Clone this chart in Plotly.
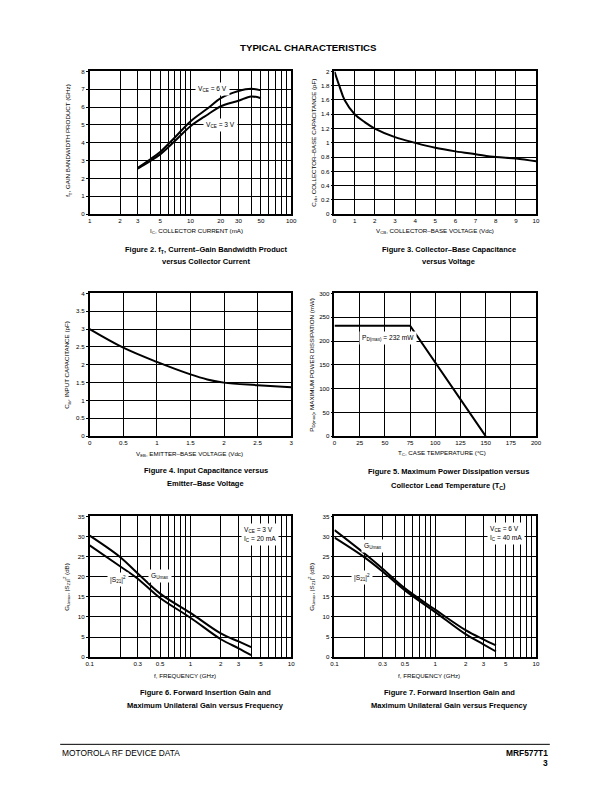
import math
import plotly.graph_objects as go

# ---------------- data ----------------
# Figure 2: fT vs collector current
ic_ma = [3, 4, 5, 7, 10, 15, 20, 30, 40, 50]
ft_vce6 = [2.6, 3.08, 3.48, 4.3, 5.2, 5.95, 6.5, 6.9, 7.03, 6.94]
ft_vce3 = [2.55, 2.98, 3.35, 4.1, 4.93, 5.6, 6.05, 6.36, 6.6, 6.5]
fig2_xticks = [1, 2, 3, 5, 10, 20, 30, 50, 100]
fig2_xgrid = [4, 6, 7, 8, 9, 40, 60, 70, 80, 90]

# Figure 3: Ccb vs VCB
vcb = [0, 0.25, 0.5, 1, 1.5, 2, 3, 4, 5, 6, 7, 8, 9, 10]
ccb = [2.0, 1.79, 1.6, 1.4, 1.29, 1.2, 1.08, 1.0, 0.93, 0.88, 0.84, 0.80, 0.78, 0.74]

# Figure 4: Cib vs VEB
veb = [0, 0.5, 1, 1.5, 1.75, 2, 2.5, 3]
cib = [3.0, 2.48, 2.08, 1.73, 1.59, 1.5, 1.43, 1.37]

# Figure 5: PD(max) vs TC
tc = [0, 75, 150]
pd_max = [232, 232, 0]

# Figure 6 / 7: gains vs frequency
freq = [0.1, 0.2, 0.3, 0.5, 1, 2, 3, 4]
gu6 = [30.2, 24.9, 20.8, 15.8, 11.0, 5.9, 3.9, 2.5]
s21_6 = [27.8, 22.6, 19.5, 14.7, 9.8, 4.45, 2.2, 0.5]
gu7 = [31.6, 25.7, 22.0, 17.1, 11.8, 6.7, 4.4, 2.9]
s21_7 = [29.7, 24.75, 21.3, 16.6, 11.2, 5.7, 3.2, 1.4]
freq_ticks = [0.1, 0.3, 0.5, 1, 2, 3, 5, 10]
freq_grid = [0.2, 0.4, 0.6, 0.7, 0.8, 0.9, 4, 6, 7, 8, 9]

# ---------------- helpers ----------------
PAGE_W, PAGE_H = 612, 792
BODY = 8  # default body margin of the html page
W, H = PAGE_W - 2 * BODY, PAGE_H - 2 * BODY
FONT = "Liberation Sans"


def px(x):
    return (x - BODY) / W


def py(y):
    return 1 - (y - BODY) / H


LEFT = [px(87), px(292)]
RIGHT = [px(336), px(541)]
ROW1 = [py(212), py(68)]
ROW2 = [py(436), py(292)]
ROW3 = [py(659), py(517)]

TICKFONT = dict(family=FONT, size=6.2, color="black")


def ax(domain, anchor, **kw):
    d = dict(domain=domain, anchor=anchor, showline=True, linecolor="black", linewidth=1.5,
             mirror=True, showgrid=True, gridcolor="black", gridwidth=1, zeroline=False,
             tickfont=TICKFONT, fixedrange=True, ticks="", ticklen=2, tickcolor="black")
    d.update(kw)
    return d


def minor_grid(vals):
    return dict(tickmode="array", tickvals=vals, showgrid=True, gridcolor="black", gridwidth=1, ticks="")


LINE = dict(color="black", width=2)

fig = go.Figure()
fig.add_trace(go.Scatter(x=ic_ma, y=ft_vce6, mode="lines", line=dict(LINE, shape="spline"), xaxis="x", yaxis="y"))
fig.add_trace(go.Scatter(x=ic_ma, y=ft_vce3, mode="lines", line=dict(LINE, shape="spline"), xaxis="x", yaxis="y"))
fig.add_trace(go.Scatter(x=vcb, y=ccb, mode="lines", line=dict(LINE, shape="spline"), xaxis="x2", yaxis="y2"))
fig.add_trace(go.Scatter(x=veb, y=cib, mode="lines", line=dict(LINE, shape="spline"), xaxis="x3", yaxis="y3"))
fig.add_trace(go.Scatter(x=tc, y=pd_max, mode="lines", line=LINE, xaxis="x4", yaxis="y4"))
fig.add_trace(go.Scatter(x=freq, y=gu6, mode="lines", line=dict(LINE, shape="spline"), xaxis="x5", yaxis="y5"))
fig.add_trace(go.Scatter(x=freq, y=s21_6, mode="lines", line=dict(LINE, shape="spline"), xaxis="x5", yaxis="y5"))
fig.add_trace(go.Scatter(x=freq, y=gu7, mode="lines", line=dict(LINE, shape="spline"), xaxis="x6", yaxis="y6"))
fig.add_trace(go.Scatter(x=freq, y=s21_7, mode="lines", line=dict(LINE, shape="spline"), xaxis="x6", yaxis="y6"))

fig.update_layout(
    width=W, height=H, margin=dict(l=0, r=0, t=0, b=0),
    paper_bgcolor="white", plot_bgcolor="white", showlegend=False,
    font=dict(family=FONT, color="black"),
    xaxis=ax(LEFT, "y", type="log", range=[0, 2], tickmode="array", tickvals=fig2_xticks,
             ticktext=[str(v) for v in fig2_xticks], minor=minor_grid(fig2_xgrid)),
    yaxis=ax(ROW1, "x", range=[0, 8], dtick=1, ticks="outside"),
    xaxis2=ax(RIGHT, "y2", range=[0, 10], dtick=1),
    yaxis2=ax(ROW1, "x2", range=[0, 2], dtick=0.2, ticks="outside"),
    xaxis3=ax(LEFT, "y3", range=[0, 3], dtick=0.5),
    yaxis3=ax(ROW2, "x3", range=[0, 4], dtick=0.5, ticks="outside"),
    xaxis4=ax(RIGHT, "y4", range=[0, 200], dtick=25),
    yaxis4=ax(ROW2, "x4", range=[0, 300], dtick=50, ticks="outside"),
    xaxis5=ax(LEFT, "y5", type="log", range=[-1, 1], tickmode="array", tickvals=freq_ticks,
              ticktext=[str(v) for v in freq_ticks], minor=minor_grid(freq_grid)),
    yaxis5=ax(ROW3, "x5", range=[0, 35], dtick=5, ticks="outside"),
    xaxis6=ax(RIGHT, "y6", type="log", range=[-1, 1], tickmode="array", tickvals=freq_ticks,
              ticktext=[str(v) for v in freq_ticks], minor=minor_grid(freq_grid)),
    yaxis6=ax(ROW3, "x6", range=[0, 35], dtick=5, ticks="outside"),
)

ann = []


def paper_text(text, x, y, size=6.2, bold=False, angle=0, xanchor="center"):
    ann.append(dict(text=("<b>%s</b>" % text) if bold else text, x=px(x), y=py(y), xref="paper", yref="paper",
                    showarrow=False, xanchor=xanchor, yanchor="middle", textangle=angle,
                    font=dict(family=FONT, size=size, color="black")))


def data_label(text, xr, yr, x, y, align="center"):
    ann.append(dict(text=text, x=x, y=y, xref=xr, yref=yr, showarrow=False, align=align,
                    bgcolor="white", borderpad=2, font=dict(family=FONT, size=6.6, color="black")))


# header / footer
paper_text("TYPICAL CHARACTERISTICS", 310, 44, size=9.7, bold=True)
paper_text("MOTOROLA RF DEVICE DATA", 57, 756, size=8.4, xanchor="left")
paper_text("MRF577T1", 555, 756, size=8.4, bold=True, xanchor="right")
paper_text("3", 555, 766, size=8.4, bold=True, xanchor="right")

# axis titles
paper_text("I<sub>C</sub>, COLLECTOR CURRENT (mA)", 196, 229)
paper_text("V<sub>CB</sub>, COLLECTOR–BASE VOLTAGE (Vdc)", 438, 229)
paper_text("V<sub>EB</sub>, EMITTER–BASE VOLTAGE (Vdc)", 189, 454)
paper_text("T<sub>C</sub>, CASE TEMPERATURE (°C)", 445, 453)
paper_text("f, FREQUENCY (GHz)", 184, 678)
paper_text("f, FREQUENCY (GHz)", 432, 678)
paper_text("f<sub>T</sub>, GAIN BANDWIDTH PRODUCT (GHz)", 65, 138, angle=-90)
paper_text("C<sub>cb</sub>, COLLECTOR–BASE CAPACITANCE (pF)", 315, 140, angle=-90)
paper_text("C<sub>ib</sub>, INPUT CAPACITANCE (pF)", 64, 364, angle=-90)
paper_text("P<sub>D(max)</sub>, MAXIMUM POWER DISSIPATION (mW)", 313, 364, angle=-90)
paper_text("G<sub>Umax</sub>, |S<sub>21</sub>|<sup>2</sup> (dB)", 64, 588, angle=-90)
paper_text("G<sub>Umax</sub>, |S<sub>21</sub>|<sup>2</sup> (dB)", 313, 588, angle=-90)

# captions
CAP = 7.5
paper_text("Figure 2. f<sub>T</sub>, Current–Gain Bandwidth Product", 205, 248, size=CAP, bold=True)
paper_text("versus Collector Current", 205, 260, size=CAP, bold=True)
paper_text("Figure 3. Collector–Base Capacitance", 452, 248, size=CAP, bold=True)
paper_text("versus Voltage", 452, 260, size=CAP, bold=True)
paper_text("Figure 4. Input Capacitance versus", 205, 471, size=CAP, bold=True)
paper_text("Emitter–Base Voltage", 205, 484, size=CAP, bold=True)
paper_text("Figure 5. Maximum Power Dissipation versus", 452, 472, size=CAP, bold=True)
paper_text("Collector Lead Temperature (T<sub>C</sub>)", 452, 486, size=CAP, bold=True)
paper_text("Figure 6. Forward Insertion Gain and", 205, 695, size=CAP, bold=True)
paper_text("Maximum Unilateral Gain versus Frequency", 205, 708, size=CAP, bold=True)
paper_text("Figure 7. Forward Insertion Gain and", 453, 695, size=CAP, bold=True)
paper_text("Maximum Unilateral Gain versus Frequency", 453, 708, size=CAP, bold=True)

# in-plot labels
data_label("V<sub>CE</sub> = 6 V", "x", "y", math.log10(16.4), 7)
data_label("V<sub>CE</sub> = 3 V", "x", "y", math.log10(19.9), 5)
data_label("P<sub>D(max)</sub> = 232 mW", "x4", "y4", 53, 206)
data_label("|S<sub>21</sub>|<sup>2</sup>", "x5", "y5", math.log10(0.189), 19.3)
data_label("G<sub>Umax</sub>", "x5", "y5", math.log10(0.5), 20.3)
data_label("V<sub>CE</sub> = 3 V<br>I<sub>C</sub> = 20 mA", "x5", "y5", math.log10(4.85), 30.6, align="left")
data_label("G<sub>Umax</sub>", "x6", "y6", math.log10(0.2415), 27.6)
data_label("|S<sub>21</sub>|<sup>2</sup>", "x6", "y6", math.log10(0.189), 19.8)
data_label("V<sub>CE</sub> = 6 V<br>I<sub>C</sub> = 40 mA", "x6", "y6", math.log10(4.99), 30.7, align="left")

fig.update_layout(annotations=ann, shapes=[
    dict(type="line", xref="paper", yref="paper", x0=px(57), x1=px(555), y0=py(747), y1=py(747),
         line=dict(color="black", width=1))
])

fig.write_html("out.html")
